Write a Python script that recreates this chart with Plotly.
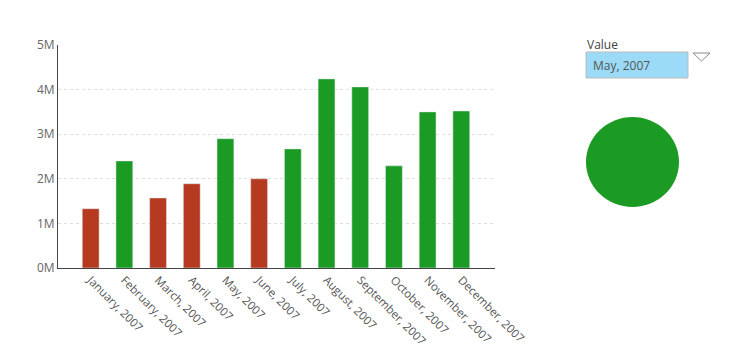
import plotly.graph_objects as go

months = ["January, 2007", "February, 2007", "March, 2007", "April, 2007", "May, 2007",
          "June, 2007", "July, 2007", "August, 2007", "September, 2007", "October, 2007",
          "November, 2007", "December, 2007"]
values = [1.33e6, 2.40e6, 1.57e6, 1.89e6, 2.90e6, 2.00e6, 2.67e6, 4.24e6, 4.06e6, 2.29e6, 3.50e6, 3.52e6]
status = ["low", "high", "low", "low", "high", "low", "high", "high", "high", "high", "high", "high"]
y_ticks = [0, 1e6, 2e6, 3e6, 4e6, 5e6]
y_tick_labels = ["0M", "1M", "2M", "3M", "4M", "5M"]
selected = "May, 2007"

RED = "#B53A1F"
GREEN = "#1B9B24"
colors = [RED if s == "low" else GREEN for s in status]
sel_color = colors[months.index(selected)]

OFF = 8  # page body margin
W, H = 741, 364
# plot area in screen pixels
SX0, SX1, SY0, SY1 = 58, 495, 45, 268
L, T = SX0 - OFF, SY0 - OFF
pw, ph = SX1 - SX0, SY1 - SY0
R = W - L - pw
B = H - T - ph


def px(x):
    return (x - SX0) / pw


def py(y):
    return (SY1 - y) / ph


FONT = "Open Sans, Segoe UI, sans-serif"

fig = go.Figure()
fig.add_trace(go.Bar(x=list(range(len(months))), y=values, marker_color=colors,
                     width=0.5, hoverinfo="x+y"))

fig.update_layout(
    width=W, height=H,
    margin=dict(l=L, r=R, t=T, b=B, autoexpand=False),
    paper_bgcolor="white", plot_bgcolor="white",
    showlegend=False,
    font=dict(family=FONT, size=12, color="#666666"),
    xaxis=dict(tickmode="array", tickvals=list(range(len(months))), ticktext=months,
               range=[-0.97, 12.0], tickangle=45, showgrid=False, zeroline=False,
               showline=True, linecolor="#444444", linewidth=1, ticks="",
               tickfont=dict(family=FONT, size=11.5, color="#555555")),
    yaxis=dict(tickmode="array", tickvals=y_ticks, ticktext=y_tick_labels,
               range=[0, 5e6], showgrid=True, gridcolor="#DDDDDD", griddash="3px,3px",
               gridwidth=1, zeroline=False, showline=True, linecolor="#444444",
               linewidth=1, ticks="", ticklen=0,
               tickfont=dict(family=FONT, size=12, color="#666666")),
    shapes=[
        dict(type="rect", xref="paper", yref="paper",
             x0=px(586), x1=px(688), y0=py(78), y1=py(52),
             fillcolor="#9BDBF7", line=dict(color="#BBBBBB", width=1)),
        dict(type="path", xref="paper", yref="paper",
             path=f"M {px(693)} {py(53)} L {px(710)} {py(53)} L {px(701.5)} {py(61)} Z",
             fillcolor="white", line=dict(color="#888888", width=1)),
        dict(type="circle", xref="paper", yref="paper",
             x0=px(586), x1=px(679), y0=py(207), y1=py(117),
             fillcolor=sel_color, line=dict(color=sel_color, width=0)),
    ],
    annotations=[
        dict(text="Value", xref="paper", yref="paper", x=px(585), y=py(44),
             xanchor="left", yanchor="middle", showarrow=False,
             font=dict(family=FONT, size=12, color="#444444")),
        dict(text=selected, xref="paper", yref="paper", x=px(591), y=py(65),
             xanchor="left", yanchor="middle", showarrow=False,
             font=dict(family=FONT, size=12, color="#555555")),
    ],
)

fig.write_html("out.html")
